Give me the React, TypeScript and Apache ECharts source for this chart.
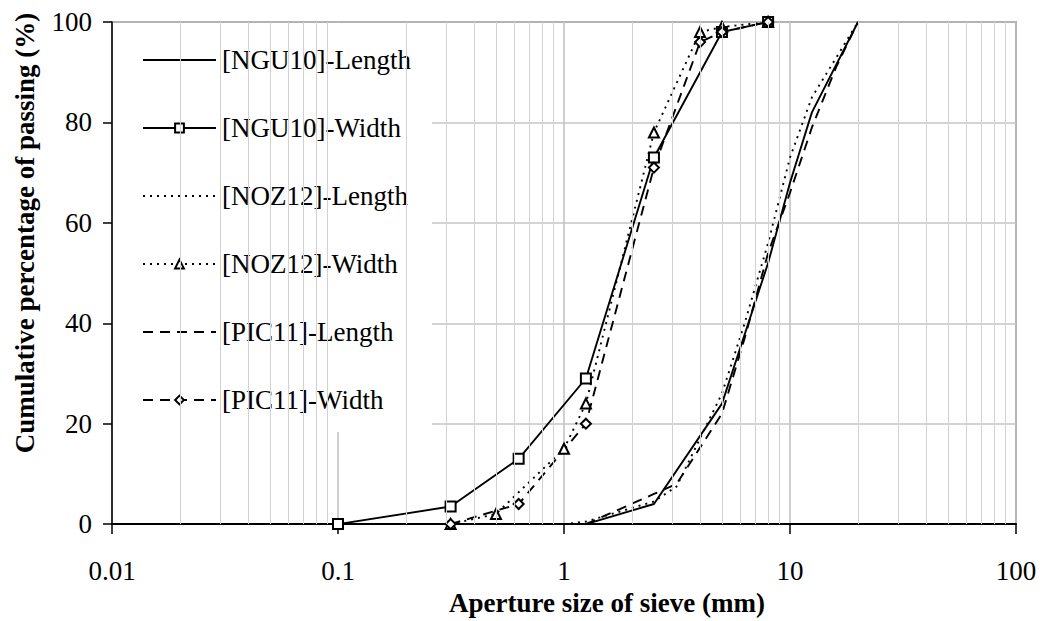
import React, { useEffect, useRef } from "react";
import * as echarts from "echarts";

// ---------- data ----------
const xTickLabels = ["0.01", "0.1", "1", "10", "100"];
const minorGridValues = [
  0.02, 0.03, 0.04, 0.05, 0.06, 0.07, 0.08, 0.09,
  0.2, 0.3, 0.4, 0.5, 0.6, 0.7, 0.8, 0.9,
  2, 3, 4, 5, 6, 7, 8, 9,
  20, 30, 40, 50, 60, 70, 80, 90,
];

const seriesNames = [
  "[NGU10]-Length",
  "[NGU10]-Width",
  "[NOZ12]-Length",
  "[NOZ12]-Width",
  "[PIC11]-Length",
  "[PIC11]-Width",
];

const ngu10LengthSize = [1.25, 2.5, 5, 8, 10, 12.5, 20];
const ngu10LengthPass = [0, 4, 24, 52, 68, 82, 100];

const ngu10WidthSize = [0.1, 0.315, 0.63, 1.25, 2.5, 5, 8];
const ngu10WidthPass = [0, 3.5, 13, 29, 73, 98, 100];

const noz12LengthSize = [1, 1.25, 2.5, 3.15, 5, 6.3, 8, 10, 12.5, 20];
const noz12LengthPass = [0, 0.5, 4.5, 7.5, 26, 40, 56, 73, 85, 100];

const noz12WidthSize = [0.315, 0.5, 1, 1.25, 2.5, 4, 5, 8];
const noz12WidthPass = [0, 2, 15, 24, 78, 98, 99, 100];

const pic11LengthSize = [1.25, 2.5, 3.15, 5, 6.3, 8, 10, 12.5, 16, 20];
const pic11LengthPass = [0, 6, 8, 22, 37, 54, 66, 79, 91, 100];

const pic11WidthSize = [0.315, 0.63, 1.25, 2.5, 4, 5, 8];
const pic11WidthPass = [0, 4, 20, 71, 96, 98, 100];

const zip = (xs: number[], ys: number[]) => xs.map((x, i) => [x, ys[i]]);

const FONT = "Liberation Serif";

export default function App() {
  const ref = useRef<HTMLDivElement>(null);

  useEffect(() => {
    document.body.style.margin = "0";
    if (!ref.current) return;
    const chart = echarts.init(ref.current, undefined, { renderer: "svg" });

    const dotted = [2, 5];
    const dashed = [10, 7];

    const mkSeries = (
      name: string,
      data: number[][],
      type: any,
      symbol: string
    ) => ({
      name,
      type: "line",
      data,
      symbol,
      symbolSize: 10,
      showSymbol: symbol !== "none",
      lineStyle: { color: "#000", width: 1.9, type },
      itemStyle: { color: "#000", borderColor: "#000", borderWidth: 1.5 },
      z: 3,
      animation: false,
    });

    const hiddenSymbol = {
      color: "rgba(0,0,0,0)",
      borderColor: "rgba(0,0,0,0)",
      borderWidth: 0,
    };

    chart.setOption({
      animation: false,
      backgroundColor: "#fff",
      grid: {
        left: 112,
        right: 24,
        top: 22,
        bottom: 84,
        show: true,
        borderColor: "#555",
        borderWidth: 1.5,
        backgroundColor: "transparent",
      },
      graphic: [
        {
          type: "rect",
          z: 2,
          silent: true,
          shape: { x: 113, y: 23, width: 319, height: 409 },
          style: { fill: "#fff" },
        },
      ],
      legend: {
        orient: "vertical",
        left: 113,
        top: 23,
        padding: [22, 17, 16, 29],
        itemWidth: 73,
        itemHeight: 11,
        itemGap: 38,
        textStyle: {
          fontFamily: FONT,
          fontSize: 27,
          color: "#000",
          lineHeight: 30,
          padding: [0, 0, 0, 1],
        },
        data: seriesNames.map((n) =>
          n.endsWith("Length") ? { name: n, itemStyle: hiddenSymbol } : { name: n }
        ),
      },
      xAxis: {
        type: "log",
        logBase: 10,
        min: 0.01,
        max: 100,
        name: "Aperture size of sieve (mm)",
        nameLocation: "middle",
        nameGap: 56,
        nameTextStyle: {
          fontFamily: FONT,
          fontSize: 27,
          fontWeight: "bold",
          color: "#000",
          padding: [0, 0, 0, 86],
        },
        axisLine: { lineStyle: { color: "#000", width: 2 } },
        axisTick: { show: true, length: 10, lineStyle: { color: "#000", width: 1.5 } },
        axisLabel: {
          fontFamily: FONT,
          fontSize: 27,
          color: "#000",
          margin: 33,
          formatter: (v: number) => {
            const idx = Math.round(Math.log10(v)) + 2;
            return xTickLabels[idx] ?? String(v);
          },
        },
        splitLine: { show: true, lineStyle: { color: "#c4c4c4", width: 1.6 } },
      },
      yAxis: {
        type: "value",
        min: 0,
        max: 100,
        interval: 20,
        name: "Cumulative percentage of passing (%)",
        nameLocation: "middle",
        nameGap: 74,
        nameTextStyle: {
          fontFamily: FONT,
          fontSize: 27,
          fontWeight: "bold",
          color: "#000",
          padding: [0, 0, 0, 80],
        },
        axisLine: { show: true, lineStyle: { color: "#000", width: 1.5 } },
        axisTick: { show: true, length: 9, lineStyle: { color: "#000", width: 1.5 } },
        axisLabel: {
          fontFamily: FONT,
          fontSize: 27,
          color: "#000",
          margin: 20,
        },
        splitLine: { show: true, lineStyle: { color: "#c4c4c4", width: 1.6 } },
      },
      series: [
        {
          name: "minor-grid",
          type: "line",
          data: [],
          silent: true,
          z: 1,
          markLine: {
            silent: true,
            symbol: "none",
            animation: false,
            label: { show: false },
            lineStyle: { color: "#d2d2d2", width: 1, type: "solid" },
            data: minorGridValues.map((v) => ({ xAxis: v })),
          },
        },
        mkSeries(seriesNames[0], zip(ngu10LengthSize, ngu10LengthPass), "solid", "none"),
        mkSeries(seriesNames[1], zip(ngu10WidthSize, ngu10WidthPass), "solid", "emptyRect"),
        mkSeries(seriesNames[2], zip(noz12LengthSize, noz12LengthPass), dotted, "none"),
        mkSeries(seriesNames[3], zip(noz12WidthSize, noz12WidthPass), dotted, "emptyTriangle"),
        mkSeries(seriesNames[4], zip(pic11LengthSize, pic11LengthPass), dashed, "none"),
        mkSeries(seriesNames[5], zip(pic11WidthSize, pic11WidthPass), dashed, "emptyDiamond"),
      ],
    });

    return () => chart.dispose();
  }, []);

  return <div ref={ref} style={{ width: 1040, height: 621 }} />;
}
